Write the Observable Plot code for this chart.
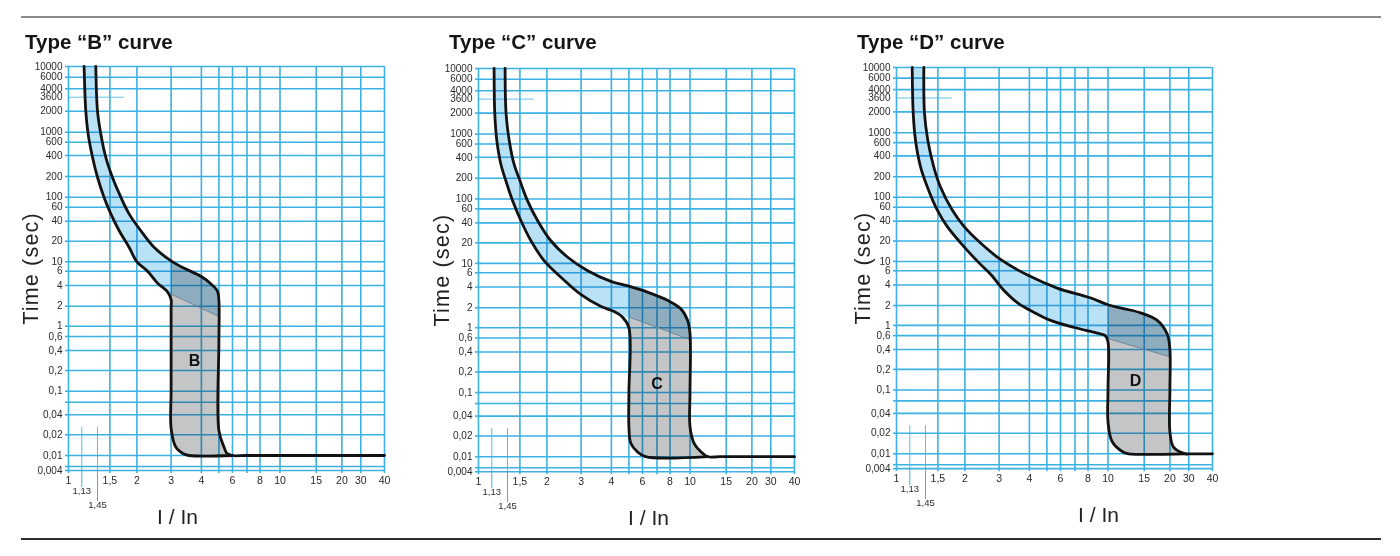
<!DOCTYPE html>
<html>
<head>
<meta charset="utf-8">
<script src="https://cdn.jsdelivr.net/npm/d3@7"></script>
<script src="https://cdn.jsdelivr.net/npm/@observablehq/plot@0.6"></script>
<style>
  html, body { margin: 0; padding: 0; background: #ffffff; }
  body { width: 1400px; height: 556px; position: relative; overflow: hidden;
         font-family: "Liberation Sans", Arial, Helvetica, sans-serif; }
  .rule-top { position: absolute; left: 21px; top: 16px; width: 1360px; height: 2px; background: #8a8a8a; }
  .rule-bot { position: absolute; left: 21px; top: 538px; width: 1360px; height: 2px; background: #2e2e2e; }
  .title { position: absolute; top: 32px; font-weight: bold; font-size: 20.5px; line-height: 20px;
           color: #151515; white-space: nowrap; }
  .panel { position: absolute; }
</style>
</head>
<body>
<div class="rule-top"></div>
<div class="rule-bot"></div>
<div id="root"></div>
<script>
// ---------------- data ----------------
const curveNames = ["B", "C", "D"];
const titles = ["Type \u201cB\u201d curve", "Type \u201cC\u201d curve", "Type \u201cD\u201d curve"];

// tick labels and grid lines (I/In on x, seconds on y)
const xTickLabels = [1, 1.5, 2, 3, 4, 6, 8, 10, 15, 20, 30, 40];
const xGridLines  = [1, 1.5, 2, 3, 4, 5, 6, 7, 8, 10, 15, 20, 30, 40];
const xMarkers    = [1.13, 1.45];
const yTickLabels = [10000, 6000, 4000, 3600, 2000, 1000, 600, 400, 200, 100, 60, 40, 20, 10, 6, 4, 2, 1, 0.6, 0.4, 0.2, 0.1, 0.04, 0.02, 0.01, 0.004];
const yGridLines  = [10000, 6000, 4000, 2000, 1000, 600, 400, 200, 100, 60, 40, 20, 10, 6, 4, 2, 1, 0.6, 0.4, 0.2, 0.1, 0.06, 0.04, 0.02, 0.01, 0.005, 0.004];
const yShortLine  = 3600;

// Type B : [I/In, time s]
const lowerB = [[1.172,10000],[1.204,2000],[1.249,920],[1.34,378],[1.45,195],[1.476,100],[1.515,49.5],[1.654,29],[1.84,16.3],[2.0,10.0],[2.27,6.0],[2.55,4.3],[2.87,3.25],[3.0,2.5],[3.0,1.9],[3.0,1.0],[3.0,0.1],[3.0,0.025],[3.14,0.0132],[3.34,0.0108],[3.56,0.01],[6.0,0.01]];
const upperB = [[1.412,10000],[1.45,2000],[1.463,920],[1.483,378],[1.54,195],[1.685,100],[1.84,49.5],[2.09,29],[2.45,16.3],[3.0,10.3],[3.4,7.0],[3.98,5.2],[4.51,4.2],[4.91,3.3],[5.0,2.42],[5.0,0.5],[5.0,0.023],[5.36,0.0132],[5.56,0.0108],[6.0,0.01],[7,0.01],[40,0.01]];
const diagB  = [[3, 3.0], [5, 1.4]];
const splitB = 3;
const letterB = [3.75, 0.28];

// Type C
const lowerC = [[1.172,10000],[1.185,1950],[1.224,713],[1.304,321],[1.412,185],[1.47,92],[1.515,42.9],[1.685,21.7],[1.94,11],[2.36,5.3],[3.0,3.1],[3.61,2.1],[4.14,1.75],[4.6,1.45],[5.0,1.0],[5.0,0.1],[5.0,0.0276],[5.13,0.0157],[5.6,0.0118],[6.2,0.01],[12.2,0.01]];
const upperC = [[1.396,10000],[1.418,1950],[1.457,713],[1.476,321],[1.5,185],[1.626,92],[1.81,42.9],[2.09,21.7],[2.55,12.4],[3.18,6.8],[3.98,4.7],[5.0,4.1],[6.32,3.38],[7.8,2.56],[9.0,1.94],[9.73,1.29],[10,0.75],[10,0.1],[10,0.0276],[10.47,0.0157],[11.3,0.0118],[12.2,0.01],[14,0.01],[40,0.01]];
const diagC  = [[5, 1.45], [10, 0.573]];
const splitC = 5;
const letterC = [7.0, 0.135];

// Type D
const lowerD = [[1.174,10000],[1.193,1900],[1.237,680],[1.34,278],[1.457,143],[1.497,55.6],[1.655,33.3],[1.91,18.8],[2.35,9.5],[2.72,5.4],[3.15,3.3],[3.6,2.15],[4.2,1.6],[5.2,1.2],[6.96,0.9],[8.87,0.68],[9.7,0.6],[10,0.5],[10,0.1],[10,0.03],[10.47,0.0151],[11.9,0.0105],[12.6,0.01],[28,0.01]];
const upperD = [[1.412,10000],[1.427,1900],[1.459,690],[1.483,278],[1.54,143],[1.745,55.6],[1.98,33.3],[2.4,18.8],[3.04,10.7],[3.93,5.3],[5.74,3.6],[8.2,2.6],[10,2.05],[11.9,1.8],[14.4,1.55],[17.3,1.2],[19.4,0.65],[20,0.4],[20,0.1],[20,0.021],[21.7,0.0124],[28,0.01],[31,0.01],[40,0.01]];
const diagD  = [[10, 0.55], [20, 0.31]];
const splitD = 10;
const letterD = [13.6, 0.136];

// ---------------- the printed paper's (non-uniform) log grid: scale layout ----------------
const xPaperKnots   = [1, 1.13, 1.45, 1.5, 2, 3, 4, 5, 6, 7, 8, 10, 15, 20, 30, 40];
const xPaperOffsets = [0, 13.3, 29, 41.4, 68.4, 102.6, 132.9, 150.4, 164, 178.5, 191.5, 211.5, 247.7, 273.4, 292.3, 316];
const yPaperKnots   = [0.004, 0.005, 0.01, 0.02, 0.04, 0.06, 0.1, 0.2, 0.4, 0.6, 1, 2, 4, 6, 10, 20, 40, 60, 100, 200, 400, 600, 1000, 2000, 3600, 4000, 6000, 10000];
const yPaperOffsets = [404, 400, 389, 368.3, 348.3, 335.7, 324.7, 304, 284, 270, 259.7, 239.7, 219, 204.7, 195.3, 174.7, 154.7, 140.7, 130.7, 110, 89, 75.7, 65.7, 44.7, 30.7, 22.3, 10.7, 0];

// ---------------- styles ----------------
const GRID = "#3cb1e4";
const BLUE_FILL = "#bae2f6";
const GRAY_FILL = "#c3c5c7";
const fmt = d => String(d).replace(".", ",");

const panels = [
  {lower: lowerB, upper: upperB, diag: diagB, split: splitB, letter: letterB, left: 0,   top: 56,   k: 1,     yDx: -37, xDx: 109},
  {lower: lowerC, upper: upperC, diag: diagC, split: splitC, letter: letterC, left: 410, top: 57.5, k: 0.998, yDx: -36, xDx: 170},
  {lower: lowerD, upper: upperD, diag: diagD, split: splitD, letter: letterD, left: 828, top: 56.7, k: 0.993, yDx: -33, xDx: 202}
];
const titleLeft = [25, 449, 857];

const root = document.getElementById("root");

panels.forEach((p, i) => {
  const W = 410, H = 480, mL = 68, mT = 10;
  const plotH = 404 * p.k;
  const mB = H - mT - plotH;
  const mR = W - mL - 316;
  const xRange = xPaperOffsets.map(o => mL + o);
  const yRange = yPaperOffsets.map(o => mT + o * p.k);

  const meetX = p.lower[p.lower.length - 1][0];
  const [dStart, dEnd] = p.diag;
  // light blue band: above the diagonal
  const bluePoly = [
    ...p.upper.filter(d => d[1] >= dEnd[1] && d[0] <= dEnd[0]),
    dEnd, dStart,
    ...p.lower.filter(d => d[0] < p.split).reverse()
  ];
  // grey zone: magnetic tripping band (right of split)
  const grayPoly = [
    ...p.upper.filter(d => d[0] >= p.split && d[0] <= meetX),
    ...p.lower.filter(d => d[0] >= p.split).reverse()
  ];

  const X = d => d[0], Y = d => d[1];

  const chart = Plot.plot({
    width: W, height: H,
    marginLeft: mL, marginRight: mR, marginTop: mT, marginBottom: mB,
    style: {fontFamily: "'Liberation Sans', Arial, Helvetica, sans-serif", fontSize: "10px", color: "#333", background: "transparent", overflow: "visible"},
    x: {type: "log", domain: xPaperKnots, range: xRange, label: null},
    y: {type: "log", domain: yPaperKnots, range: yRange, label: null},
    marks: [
      // grid of the printed paper
      Plot.ruleX(xGridLines, {stroke: GRID, strokeWidth: 1.6}),
      Plot.ruleY(yGridLines, {stroke: GRID, strokeWidth: 1.6}),
      Plot.ruleY([yShortLine], {x1: 1, x2: 1.75, stroke: GRID, strokeWidth: 1, strokeOpacity: 0.8}),
      Plot.ruleX(xMarkers, {y1: 0.026, y2: 0.004, stroke: GRID, strokeWidth: 1, strokeOpacity: 0.85}),
      // tick stubs
      Plot.axisX(xGridLines, {tickSize: 3, tickFormat: () => "", stroke: GRID, strokeWidth: 1.6, label: null}),
      Plot.axisY(yGridLines, {tickSize: 3, tickFormat: () => "", stroke: GRID, strokeWidth: 1.6, label: null}),
      Plot.axisX([xMarkers[0]], {tickSize: 17, tickFormat: () => "", stroke: GRID, strokeWidth: 1, label: null}),
      Plot.axisX([xMarkers[1]], {tickSize: 31, tickFormat: () => "", stroke: GRID, strokeWidth: 1, label: null}),
      // fills
      Plot.line(bluePoly, {x: X, y: Y, fill: BLUE_FILL, stroke: "none", curve: "linear", mixBlendMode: "multiply"}),
      Plot.line(grayPoly, {x: X, y: Y, fill: GRAY_FILL, stroke: "none", curve: "linear", mixBlendMode: "multiply"}),
      // boundary between the two grey tones
      Plot.line(p.diag, {x: X, y: Y, stroke: "#6f8698", strokeWidth: 1}),
      // trip curves
      Plot.line(p.lower, {x: X, y: Y, stroke: "#121212", strokeWidth: 2.8, curve: "catmull-rom", strokeLinejoin: "round"}),
      Plot.line(p.upper, {x: X, y: Y, stroke: "#121212", strokeWidth: 2.8, curve: "catmull-rom", strokeLinejoin: "round"}),
      // curve letter
      Plot.text([curveNames[i]], {x: () => p.letter[0], y: () => p.letter[1], text: d => d, fontSize: 16, fontWeight: "bold", fill: "#111"}),
      // tick labels
      Plot.text(xTickLabels, {x: d => d, frameAnchor: "bottom", dy: 13, text: fmt, fontSize: 10.5, fill: "#2a2a2a"}),
      Plot.text([xMarkers[0]], {x: d => d, frameAnchor: "bottom", dy: 23, text: fmt, fontSize: 9.5, fill: "#2a2a2a"}),
      Plot.text([xMarkers[1]], {x: d => d, frameAnchor: "bottom", dy: 37, text: fmt, fontSize: 9.5, fill: "#2a2a2a"}),
      Plot.text(yTickLabels, {y: d => d, frameAnchor: "left", dx: -6, textAnchor: "end", text: fmt, fontSize: 10, fill: "#2a2a2a"}),
      // axis titles
      Plot.text(["Time (sec)"], {frameAnchor: "left", dx: p.yDx, rotate: -90, text: d => d, fontSize: 21.5, fill: "#222", textAnchor: "middle", lineAnchor: "middle"}),
      Plot.text(["I / In"], {frameAnchor: "bottom-left", dx: p.xDx, dy: 47, text: d => d, fontSize: 21, fill: "#222", textAnchor: "middle", lineAnchor: "middle"})
    ]
  });
  // slightly wider tracking on the vertical axis title, as printed
  d3.select(chart).selectAll("text")
    .filter(function() { return this.textContent === "Time (sec)"; })
    .attr("letter-spacing", "1.2px");

  const wrap = document.createElement("div");
  wrap.className = "panel";
  wrap.style.left = p.left + "px";
  wrap.style.top = p.top + "px";
  wrap.appendChild(chart);
  root.appendChild(wrap);

  const t = document.createElement("div");
  t.className = "title";
  t.style.left = titleLeft[i] + "px";
  t.textContent = titles[i];
  root.appendChild(t);
});
</script>
</body>
</html>
